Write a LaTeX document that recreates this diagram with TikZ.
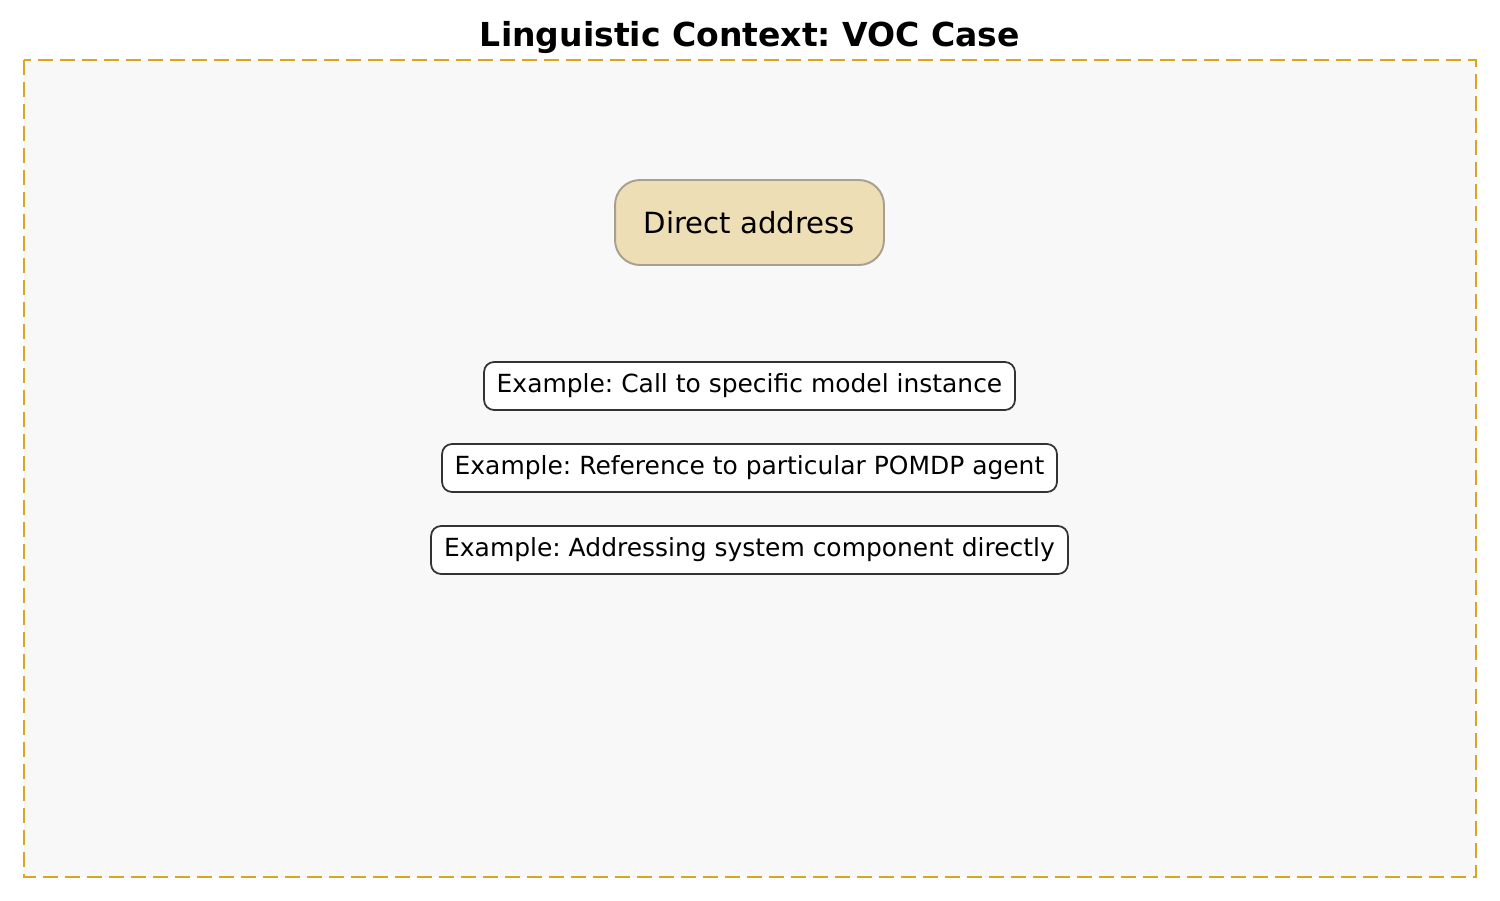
\documentclass[tikz,border=0pt]{standalone}
\usepackage{fontspec}
\setmainfont{DejaVu Sans}
\usepackage{tikz}
\usetikzlibrary{positioning}
\definecolor{clusterfill}{HTML}{F8F8F8}
\definecolor{clusterline}{HTML}{DAA520}
\definecolor{rolefill}{HTML}{EEDEB5}
\definecolor{roleline}{HTML}{A8A08E}
\definecolor{exline}{HTML}{333333}
\frenchspacing

\begin{document}
\begin{tikzpicture}[
    x=0.02cm, y=-0.02cm,
    cluster/.style={draw=clusterline, fill=clusterfill, line width=1.1pt, dash pattern=on 0.3cm off 0.14cm},
    role/.style={rectangle, rounded corners=0.5cm, draw=roleline, fill=rolefill, line width=1.1pt, minimum width=5.38cm, minimum height=1.7cm, font=\fontsize{16.6}{19}\selectfont},
    example/.style={rectangle, rounded corners=0.2cm, draw=exline, fill=white, line width=1pt, minimum height=0.96cm, text height=1.6ex, text depth=0.25ex, font=\fontsize{14.2}{17}\selectfont},
    heading/.style={font=\fontsize{18.8}{22}\selectfont\bfseries}
]
\useasboundingbox (0,0) rectangle (1500,900);

% Cluster
\draw[cluster] (24,60) rectangle (1476,877);
\node[heading] (title) at (750,37.5) {Linguistic Context: VOC Case};

% Role
\node[role] (direct) at (749.5,222.5) {Direct address};

% Examples
\node[example, minimum width=10.62cm] (ex1) at (749.5,386) {Example: Call to specific model instance};
\node[example, minimum width=12.3cm] (ex2) at (749.5,468) {Example: Reference to particular POMDP agent};
\node[example, minimum width=12.74cm] (ex3) at (749.5,550) {Example: Addressing system component directly};

\end{tikzpicture}
\end{document}
